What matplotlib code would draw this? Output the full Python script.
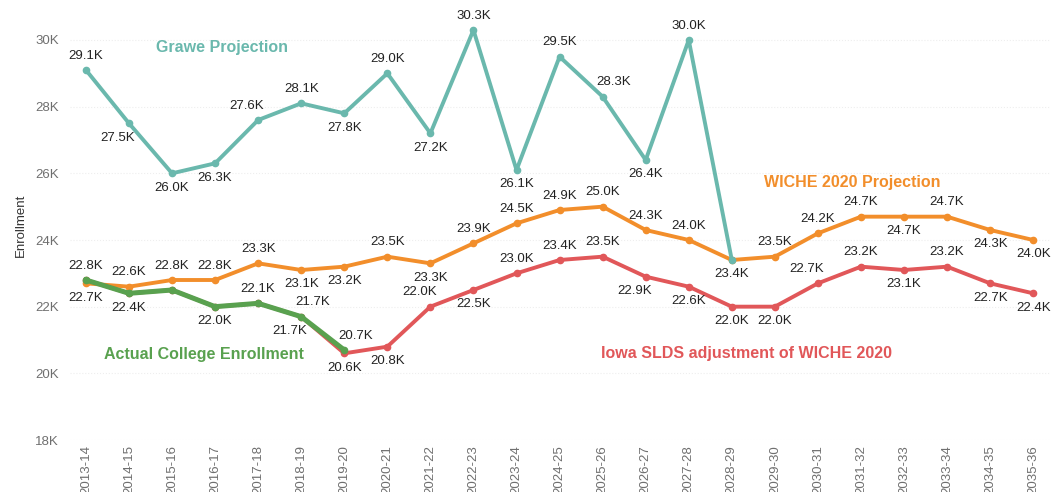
import numpy as np
import matplotlib
matplotlib.use("Agg")
from matplotlib import pyplot as plt
from matplotlib.ticker import FuncFormatter

plt.rcParams["font.family"] = ["Liberation Sans", "DejaVu Sans"]

years = [
    "2013-14", "2014-15", "2015-16", "2016-17", "2017-18", "2018-19", "2019-20",
    "2020-21", "2021-22", "2022-23", "2023-24", "2024-25", "2025-26", "2026-27",
    "2027-28", "2028-29", "2029-30", "2030-31", "2031-32", "2032-33", "2033-34",
    "2034-35", "2035-36",
]

# values in thousands
grawe = [29.1, 27.5, 26.0, 26.3, 27.6, 28.1, 27.8, 29.0, 27.2, 30.3, 26.1,
         29.5, 28.3, 26.4, 30.0, 23.4]
wiche = [22.7, 22.6, 22.8, 22.8, 23.3, 23.1, 23.2, 23.5, 23.3, 23.9, 24.5,
         24.9, 25.0, 24.3, 24.0, 23.4, 23.5, 24.2, 24.7, 24.7, 24.7, 24.3, 24.0]
iowa = [22.8, 22.4, 22.5, 22.0, 22.1, 21.7, 20.6, 20.8, 22.0, 22.5, 23.0,
        23.4, 23.5, 22.9, 22.6, 22.0, 22.0, 22.7, 23.2, 23.1, 23.2, 22.7, 22.4]
actual = [22.8, 22.4, 22.5, 22.0, 22.1, 21.7, 20.7]

# where each value label goes: a = above, b = below, l/r = nudge sideways, - = none
grawe_lab = ["a", "bl", "b", "b", "al", "a", "b", "a", "b", "a", "b",
             "a", "ar", "b", "a", "-"]
wiche_lab = ["b", "a", "a", "a", "a", "b", "b", "a", "b", "a", "a",
             "a", "a", "a", "a", "b", "a", "a", "a", "b", "a", "b", "b"]
iowa_lab = ["-", "-", "-", "-", "-", "ar", "b", "b", "al", "b", "a",
            "a", "a", "bl", "b", "b", "b", "al", "a", "b", "a", "b", "b"]
actual_lab = ["a", "b", "-", "b", "a", "bl", "ar"]

COLORS = {
    "grawe": "#6ab8ad",
    "wiche": "#f28e2b",
    "iowa": "#e15759",
    "actual": "#59a14f",
}

fig = plt.figure(figsize=(10.56, 4.92), dpi=100)
ax = fig.add_axes([70 / 1056, 52 / 492, 980 / 1056, 430 / 492])

x = np.arange(len(years))


def draw(values, color, lw, labels, z):
    xs = x[:len(values)]
    ax.plot(xs, values, color=color, lw=lw, marker="o", ms=4.5,
            solid_joinstyle="round", zorder=z)
    for xi, v, pos in zip(xs, values, labels):
        if pos == "-":
            continue
        dx = -8 if "l" in pos else (8 if "r" in pos else 0)
        above = pos.startswith("a")
        ax.annotate(f"{v:.1f}K", (xi, v), xytext=(dx, 6 if above else -6),
                    textcoords="offset points", ha="center",
                    va="bottom" if above else "top",
                    fontsize=9.5, color="#222222", zorder=10)


draw(wiche, COLORS["wiche"], 2.8, wiche_lab, 3)
draw(iowa, COLORS["iowa"], 2.8, iowa_lab, 2)
draw(actual, COLORS["actual"], 3.6, actual_lab, 4)
draw(grawe, COLORS["grawe"], 2.8, grawe_lab, 5)

ax.text(3.16, 29.79, "Grawe Projection", color=COLORS["grawe"], fontsize=11.5,
        fontweight="bold", ha="center", va="center")
ax.text(17.8, 25.74, "WICHE 2020 Projection", color=COLORS["wiche"], fontsize=11.5,
        fontweight="bold", ha="center", va="center")
ax.text(2.74, 20.55, "Actual College Enrollment", color=COLORS["actual"], fontsize=11.5,
        fontweight="bold", ha="center", va="center")
ax.text(15.35, 20.6, "Iowa SLDS adjustment of WICHE 2020", color=COLORS["iowa"],
        fontsize=11.5, fontweight="bold", ha="center", va="center")

ax.set_xlim(-0.37, 22.39)
ax.set_ylim(18, 30.9)
ax.set_yticks(np.arange(18, 31, 2))
ax.yaxis.set_major_formatter(FuncFormatter(lambda v, _: f"{v:.0f}K"))
ax.set_xticks(x)
ax.set_xticklabels(years, rotation=90)
ax.tick_params(length=0, labelsize=9.5, labelcolor="#6f6f6f")
ax.tick_params(axis="y", labelsize=9.5, pad=8)
ax.grid(axis="y", color="#eeeeee", ls=":", lw=0.8)
for s in ax.spines.values():
    s.set_visible(False)
ax.set_ylabel("Enrollment", fontsize=9.5, color="#333333", labelpad=6)

fig.savefig("out.png", dpi=100)
